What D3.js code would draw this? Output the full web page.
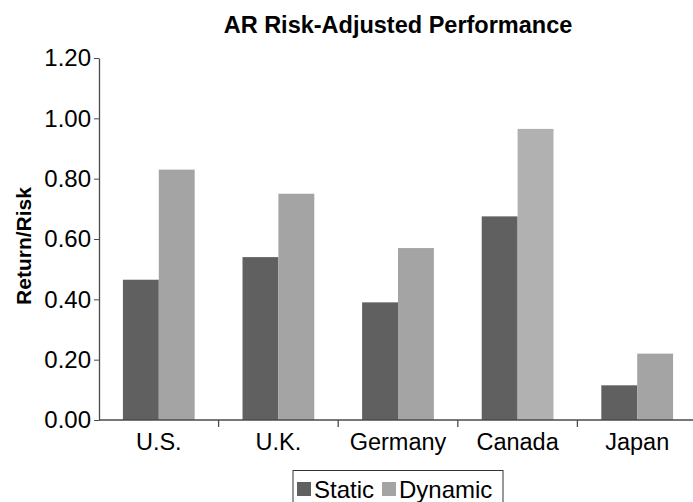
<!DOCTYPE html>
<html>
<head>
<meta charset="utf-8">
<script src="https://cdn.jsdelivr.net/npm/d3@7/dist/d3.min.js"></script>
<style>
  html, body { margin: 0; padding: 0; background: #fff; }
  svg { display: block; font-family: "Liberation Sans", Arial, sans-serif; }
</style>
</head>
<body>
<svg id="chart" width="693" height="502"></svg>
<script>
// Return/Risk ratios by market, static vs dynamic allocation
const countries = ["U.S.", "U.K.", "Germany", "Canada", "Japan"];
const staticValues = [0.465, 0.54, 0.39, 0.675, 0.115];
const dynamicValues = [0.83, 0.75, 0.57, 0.965, 0.22];
const seriesNames = ["Static", "Dynamic"];
const yTicks = [0, 0.2, 0.4, 0.6, 0.8, 1.0, 1.2];

const rows = countries.map((c, i) => ({ country: c, Static: staticValues[i], Dynamic: dynamicValues[i] }));

const svg = d3.select("#chart");
const plotLeft = 99, plotRight = 697, plotTop = 58, plotBottom = 420;

const x = d3.scaleBand().domain(countries).range([plotLeft, plotRight]).paddingInner(0.4).paddingOuter(0.2);
const xs = d3.scaleBand().domain(seriesNames).range([0, x.bandwidth()]);
const y = d3.scaleLinear().domain([0, 1.2]).range([plotBottom, plotTop]);
const color = d3.scaleOrdinal().domain(seriesNames).range(["#606060", "#a4a4a4"]);
const fillFor = (d) => (d.key === "Dynamic" && d.country === "Canada") ? "#b1b1b1" : color(d.key);

// bars
const groups = svg.append("g").selectAll("g").data(rows).join("g")
  .attr("transform", d => `translate(${x(d.country)},0)`);
groups.selectAll("rect")
  .data(d => seriesNames.map(k => ({ key: k, value: d[k], country: d.country })))
  .join("rect")
  .attr("x", d => xs(d.key))
  .attr("width", xs.bandwidth())
  .attr("y", d => y(d.value))
  .attr("height", d => y(0) - y(d.value))
  .attr("fill", fillFor);

// y axis
const yAxis = d3.axisLeft(y).tickValues(yTicks).tickFormat(d3.format(".2f")).tickSize(5).tickSizeOuter(0);
const gy = svg.append("g").attr("transform", `translate(${plotLeft},0)`).call(yAxis);
gy.select(".domain").attr("stroke", "#4a4a4a").attr("stroke-width", 1.3);
gy.selectAll(".tick line").attr("stroke", "#4a4a4a");
gy.selectAll(".tick text").attr("font-size", 24).attr("fill", "#000").attr("x", -8)
  .attr("font-family", "Liberation Sans, Arial, sans-serif");

// x axis baseline with boundary ticks between categories
const step = x.step();
const gx = svg.append("g");
gx.append("line").attr("x1", plotLeft).attr("x2", 693).attr("y1", plotBottom).attr("y2", plotBottom)
  .attr("stroke", "#4a4a4a").attr("stroke-width", 1.3);
const boundaries = countries.slice(1).map(c => x(c) - step * x.paddingInner() / 2);
gx.selectAll("line.bt").data(boundaries).join("line").attr("class", "bt")
  .attr("x1", d => d).attr("x2", d => d).attr("y1", plotBottom).attr("y2", plotBottom + 7)
  .attr("stroke", "#4a4a4a").attr("stroke-width", 1.3);
gx.selectAll("text").data(countries).join("text")
  .attr("x", d => x(d) + x.bandwidth() / 2)
  .attr("y", plotBottom + 30)
  .attr("text-anchor", "middle")
  .attr("font-size", 23.5)
  .text(d => d);

// title
svg.append("text").attr("x", 398).attr("y", 33).attr("text-anchor", "middle")
  .attr("font-size", 23.5).attr("font-weight", "bold").text("AR Risk-Adjusted Performance");

// y axis title
svg.append("text").attr("transform", "translate(31,246) rotate(-90)").attr("text-anchor", "middle")
  .attr("font-size", 21).attr("font-weight", "bold").text("Return/Risk");

// legend
const lg = svg.append("g");
lg.append("rect").attr("x", 293).attr("y", 470.5).attr("width", 210).attr("height", 40)
  .attr("fill", "#fff").attr("stroke", "#333").attr("stroke-width", 1);
const items = [{ key: "Static", sx: 297, tx: 314 }, { key: "Dynamic", sx: 382, tx: 399 }];
items.forEach(it => {
  lg.append("rect").attr("x", it.sx).attr("y", 482).attr("width", 14).attr("height", 14).attr("fill", color(it.key));
  lg.append("text").attr("x", it.tx).attr("y", 498).attr("font-size", 24).text(it.key);
});
</script>
</body>
</html>
